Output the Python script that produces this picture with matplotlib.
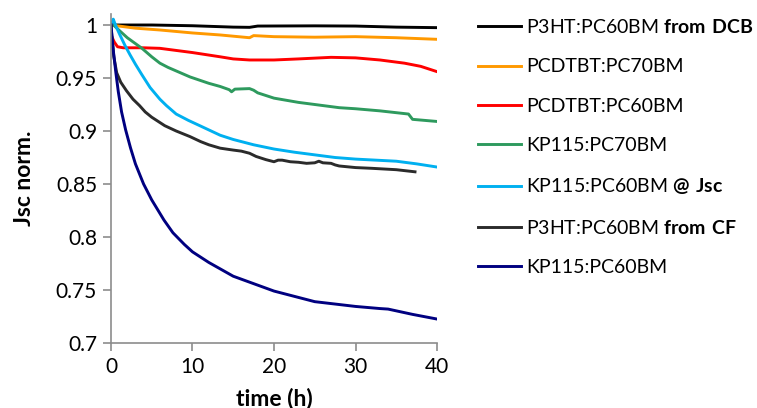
import matplotlib
matplotlib.use("Agg")
import matplotlib.pyplot as plt

plt.rcParams['font.family'] = ['Lato', 'DejaVu Sans']
plt.rcParams['mathtext.fontset'] = 'custom'
plt.rcParams['mathtext.rm'] = 'Lato'
plt.rcParams['mathtext.bf'] = 'Lato:bold'

# P3HT:PC60BM from DCB
t_dcb = [0, 5, 10, 15, 17, 18, 25, 30, 35, 40]
j_dcb = [1.0, 1.0, 0.9993, 0.998, 0.9978, 0.999, 0.9992, 0.999, 0.998, 0.9975]

# PCDTBT:PC70BM
t_pc70 = [0, 3, 6, 10, 13.4, 17, 17.5, 20, 25, 30, 35, 40]
j_pc70 = [1.0, 0.997, 0.9953, 0.9925, 0.9906, 0.988, 0.990, 0.989, 0.9885, 0.989, 0.988, 0.9865]

# PCDTBT:PC60BM
t_pc60 = [0.1, 0.4, 0.8, 1.5, 4, 6, 8, 10, 13.4, 15, 17, 20, 23, 27, 30, 33, 36, 38, 40]
j_pc60 = [0.989, 0.984, 0.9795, 0.9785, 0.9785, 0.978, 0.976, 0.974, 0.970, 0.968, 0.967, 0.967, 0.968,
          0.9695, 0.969, 0.967, 0.964, 0.961, 0.956]

# KP115:PC70BM
t_kp70 = [0.3, 1, 2, 3.8, 5, 6, 7, 9.7, 12, 13.4, 14.5, 14.8, 15.2, 17, 17.5, 18, 20, 23, 25, 28, 30, 33,
          36.5, 37, 40]
j_kp70 = [1.0, 0.995, 0.988, 0.978, 0.970, 0.964, 0.960, 0.951, 0.945, 0.942, 0.939, 0.937, 0.9395, 0.940,
          0.9385, 0.936, 0.931, 0.927, 0.925, 0.922, 0.921, 0.919, 0.916, 0.911, 0.909]

# KP115:PC60BM @ Jsc
t_kpjsc = [0.1, 0.28, 0.6, 1.1, 1.7, 2.33, 3, 3.8, 4.8, 6.0, 6.8, 8, 9.5, 10.9, 13.4, 15, 17.5, 20, 22.5,
           25, 27.5, 30, 32.5, 35, 37.5, 40]
j_kpjsc = [1.002, 1.0055, 0.999, 0.9906, 0.981, 0.972, 0.963, 0.953, 0.941, 0.930, 0.924, 0.916, 0.910,
           0.905, 0.896, 0.892, 0.887, 0.883, 0.880, 0.8775, 0.875, 0.8735, 0.8725, 0.8715, 0.869, 0.866]

# P3HT:PC60BM from CF
t_cf = [0, 0.15, 0.35, 0.7, 1.2, 1.9, 2.7, 3.5, 4.2, 5, 6, 6.6, 8, 9.7, 11, 12, 13.4, 15, 16, 17, 17.8,
        19, 20, 20.5, 21, 22, 23, 24, 25, 25.5, 26, 27, 27.5, 28, 30, 32, 35, 37.3]
j_cf = [1.0, 0.985, 0.97, 0.955, 0.946, 0.938, 0.930, 0.924, 0.918, 0.913, 0.908, 0.905, 0.900, 0.8947,
        0.890, 0.887, 0.8838, 0.882, 0.881, 0.879, 0.876, 0.873, 0.871, 0.8725, 0.8725, 0.871, 0.8705,
        0.8695, 0.870, 0.8715, 0.870, 0.8695, 0.868, 0.867, 0.8655, 0.8648, 0.8635, 0.8615]

# KP115:PC60BM
t_kp60 = [0, 0.3, 0.6, 0.9, 1.3, 1.8, 2.4, 3.0, 4.0, 5.0, 6.5, 7.6, 9, 10, 12, 15, 20, 25, 30, 33, 34,
          37, 40]
j_kp60 = [1.0, 0.975, 0.955, 0.937, 0.918, 0.901, 0.884, 0.869, 0.850, 0.835, 0.816, 0.804, 0.793, 0.786,
          0.776, 0.763, 0.749, 0.739, 0.7345, 0.7325, 0.732, 0.727, 0.7226]

series = [
    (t_dcb, j_dcb, '#000000', r'P3HT:PC60BM $\mathbf{from\ DCB}$'),
    (t_pc70, j_pc70, '#FF9900', 'PCDTBT:PC70BM'),
    (t_pc60, j_pc60, '#FF0000', 'PCDTBT:PC60BM'),
    (t_kp70, j_kp70, '#2E9A5E', 'KP115:PC70BM'),
    (t_kpjsc, j_kpjsc, '#00B0F0', r'KP115:PC60BM $\mathbf{@\ Jsc}$'),
    (t_cf, j_cf, '#2B2B2B', r'P3HT:PC60BM $\mathbf{from\ CF}$'),
    (t_kp60, j_kp60, '#000080', 'KP115:PC60BM'),
]

fig = plt.figure(figsize=(7.57, 4.08), dpi=100)
ax = fig.add_axes([0.1466, 0.1593, 0.4307, 0.8054])

for t, j, c, lab in series:
    ax.plot(t, j, color=c, lw=2.1, label=lab)

ax.set_xlim(0, 40)
ax.set_ylim(0.7, 1.01)
ax.set_xticks([0, 10, 20, 30, 40])
ax.set_yticks([0.7, 0.75, 0.8, 0.85, 0.9, 0.95, 1.0])
ax.set_yticklabels(['0.7', '0.75', '0.8', '0.85', '0.9', '0.95', '1'])
for s in ['top', 'right']:
    ax.spines[s].set_visible(False)
for s in ['left', 'bottom']:
    ax.spines[s].set_color('#8C8C8C')
    ax.spines[s].set_linewidth(1.2)
ax.tick_params(direction='out', length=6, width=1.2, color='#8C8C8C', labelsize=15, pad=4)
ax.set_xlabel('time (h)', fontsize=16.5, fontweight='bold', va='top')
ax.xaxis.set_label_coords(0.5, -0.135)
ax.set_ylabel('Jsc norm.', fontsize=16.5, fontweight='bold', va='center')
ax.yaxis.set_label_coords(-0.265, 0.5)

fig.legend(loc='upper left', bbox_to_anchor=(0.632, 0.956), frameon=False, fontsize=14,
           handlelength=2.2, handletextpad=0.25, labelspacing=1.15, borderpad=0, borderaxespad=0)

fig.savefig('out.png', dpi=100)
